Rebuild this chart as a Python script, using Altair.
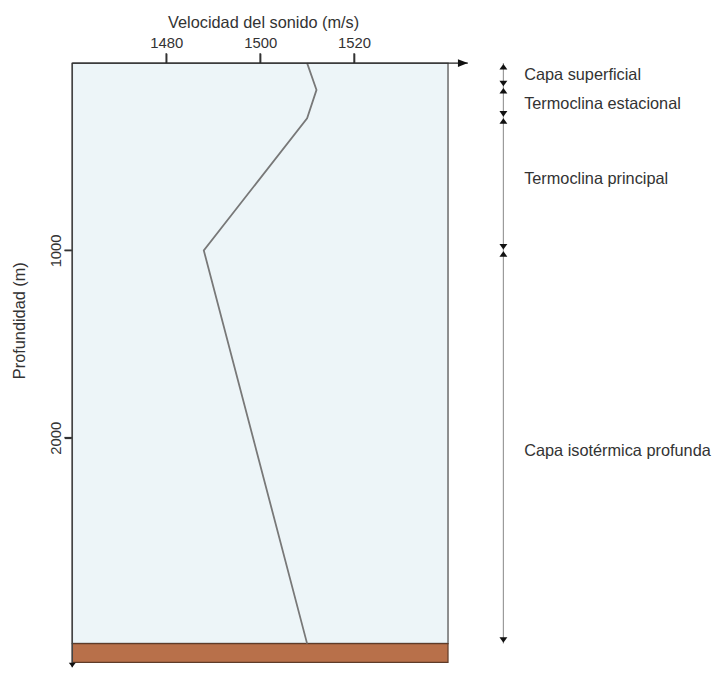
import altair as alt
import pandas as pd

# ---- data ----
velocity = [1510, 1512, 1510, 1488, 1510]          # m/s
depth = [0, 143, 295, 1000, 3100]                  # m

layer_names = ["Capa superficial", "Termoclina estacional",
               "Termoclina principal", "Capa isotérmica profunda"]
layer_top = [0, 128, 290, 1000]
layer_bottom = [128, 290, 1000, 3100]
label_depth = [65, 217, 620, 2070]

x_ticks = [1480, 1500, 1520]
y_ticks = [1000, 2000]
x_domain = [1460, 1540]
y_domain = [0, 3200]
water_bottom = 3100
seabed_bottom = 3200

FONT = "Liberation Sans"
TXT = "#333333"
W, H = 380, 606

xs = alt.Scale(domain=x_domain, nice=False, zero=False)
ys = alt.Scale(domain=y_domain, nice=False, zero=False, reverse=True)

x_axis = alt.Axis(
    orient="top", title="Velocidad del sonido (m/s)", values=x_ticks, format="d",
    domain=False, grid=False, ticks=True, tickSize=10, tickColor="#333333", tickWidth=1.5,
    labelPadding=3, labelFont=FONT, labelFontSize=15, labelColor=TXT,
    titleFont=FONT, titleFontSize=16.5, titleFontWeight="normal", titleColor=TXT,
    titleX=193, titleY=-41, titleAlign="center", titleBaseline="middle")
y_axis = alt.Axis(
    title="Profundidad (m)", values=y_ticks, format="d", domain=False, grid=False,
    ticks=True, tickSize=8, tickColor="#333333", tickWidth=1.5, labelAngle=270,
    labelAlign="center", labelBaseline="bottom", labelPadding=0.5, labelFont=FONT,
    labelFontSize=15, labelColor=TXT, titleFont=FONT, titleFontSize=16.5,
    titleFontWeight="normal", titleColor=TXT, titleAngle=270, titleX=-53.5, titleY=260,
    titleAlign="center", titleBaseline="middle")


def X(f):
    return alt.X(f, scale=xs, axis=x_axis, title="Velocidad del sonido (m/s)")


def Y(f):
    return alt.Y(f, scale=ys, axis=y_axis, title="Profundidad (m)")


# pixel offsets -> data units, for decorations drawn just outside the plot
def px_to_depth(py):
    return py * (y_domain[1] - y_domain[0]) / H


def px_to_vel(px):
    return x_domain[0] + px * (x_domain[1] - x_domain[0]) / W


# water column
box = pd.DataFrame({"x": [x_domain[0]], "x2": [x_domain[1]], "y": [0], "y2": [water_bottom]})
water = alt.Chart(box).mark_rect(fill="#EDF5F8", stroke="#6b6b6b", strokeWidth=1.5).encode(
    x=X("x:Q"), x2="x2:Q", y=Y("y:Q"), y2="y2:Q")

# seabed
sb = pd.DataFrame({"x": [x_domain[0]], "x2": [x_domain[1]], "y": [water_bottom], "y2": [seabed_bottom]})
seabed = alt.Chart(sb).mark_rect(fill="#B8704A", stroke="#5e3b28", strokeWidth=1.2).encode(
    x=X("x:Q"), x2="x2:Q", y=Y("y:Q"), y2="y2:Q")

# sound-speed profile
prof = pd.DataFrame({"v": velocity, "d": depth, "o": range(len(depth))})
line = alt.Chart(prof).mark_line(color="#787878", strokeWidth=1.8).encode(
    x=X("v:Q"), y=Y("d:Q"), order="o:Q")

# tick marks
xt = pd.DataFrame({"x": x_ticks, "y": [0.0] * len(x_ticks), "y2": [px_to_depth(-10)] * len(x_ticks)})
x_tick_rules = alt.Chart(xt).mark_rule(color="#333333", strokeWidth=1.5).encode(
    x=X("x:Q"), y=Y("y:Q"), y2="y2:Q")
yt = pd.DataFrame({"y": y_ticks, "x": [x_domain[0]] * len(y_ticks), "x2": [px_to_vel(-8)] * len(y_ticks)})
y_tick_rules = alt.Chart(yt).mark_rule(color="#333333", strokeWidth=1.5).encode(
    x=X("x:Q"), x2="x2:Q", y=Y("y:Q"))

# axis lines with arrows
ax_top = pd.DataFrame({"x": [x_domain[0]], "x2": [px_to_vel(400)], "y": [0]})
top_rule = alt.Chart(ax_top).mark_rule(color="#222222", strokeWidth=1.5).encode(
    x=X("x:Q"), x2="x2:Q", y=Y("y:Q"))
top_arrow = alt.Chart(ax_top).mark_point(
    shape="M-2,-0.8L-2,0.8L0,0Z", filled=True, size=100, color="#111111", opacity=1).encode(
    x=X("x2:Q"), y=Y("y:Q"))

ax_left = pd.DataFrame({"x": [x_domain[0]], "y": [0], "y2": [px_to_depth(611)]})
left_rule = alt.Chart(ax_left).mark_rule(color="#444444", strokeWidth=1.5).encode(
    x=X("x:Q"), y=Y("y:Q"), y2="y2:Q")
left_arrow = alt.Chart(ax_left).mark_point(
    shape="M-1,-1.3L1,-1.3L0,0Z", filled=True, size=49, color="#111111", opacity=1).encode(
    x=X("x:Q"), y=Y("y2:Q"))

# layer annotations on the right
ANN_X = px_to_vel(436)
TXT_X = px_to_vel(457)
lay = pd.DataFrame({"name": layer_names, "top": layer_top, "bot": layer_bottom,
                    "mid": label_depth, "ax": [ANN_X] * 4, "tx": [TXT_X] * 4})
ann_rule = alt.Chart(lay).mark_rule(color="#9a9a9a", strokeWidth=1.2).encode(
    x=X("ax:Q"), y=Y("top:Q"), y2="bot:Q")
up = alt.Chart(lay).mark_point(shape="M-1,1.6L1,1.6L0,0.2Z", filled=True, size=64,
                               color="#111111", opacity=1).encode(
    x=X("ax:Q"), y=Y("top:Q"))
down = alt.Chart(lay).mark_point(shape="M-1,-1.6L1,-1.6L0,-0.2Z", filled=True, size=64,
                                 color="#111111", opacity=1).encode(
    x=X("ax:Q"), y=Y("bot:Q"))
labels = alt.Chart(lay).mark_text(align="left", baseline="middle", font=FONT,
                                  fontSize=16.5, color=TXT).encode(
    x=X("tx:Q"), y=Y("mid:Q"), text="name:N")

chart = alt.layer(water, seabed, line, x_tick_rules, y_tick_rules, left_rule, top_rule,
                  top_arrow, left_arrow, ann_rule, up, down, labels).properties(
    width=W, height=H,
    autosize=alt.AutoSizeParams(type="none"),
    padding={"left": 65, "top": 52, "right": 270, "bottom": 4},
).configure_view(stroke=None)

chart.save("out.html", embed_options={"renderer": "svg", "actions": False})
